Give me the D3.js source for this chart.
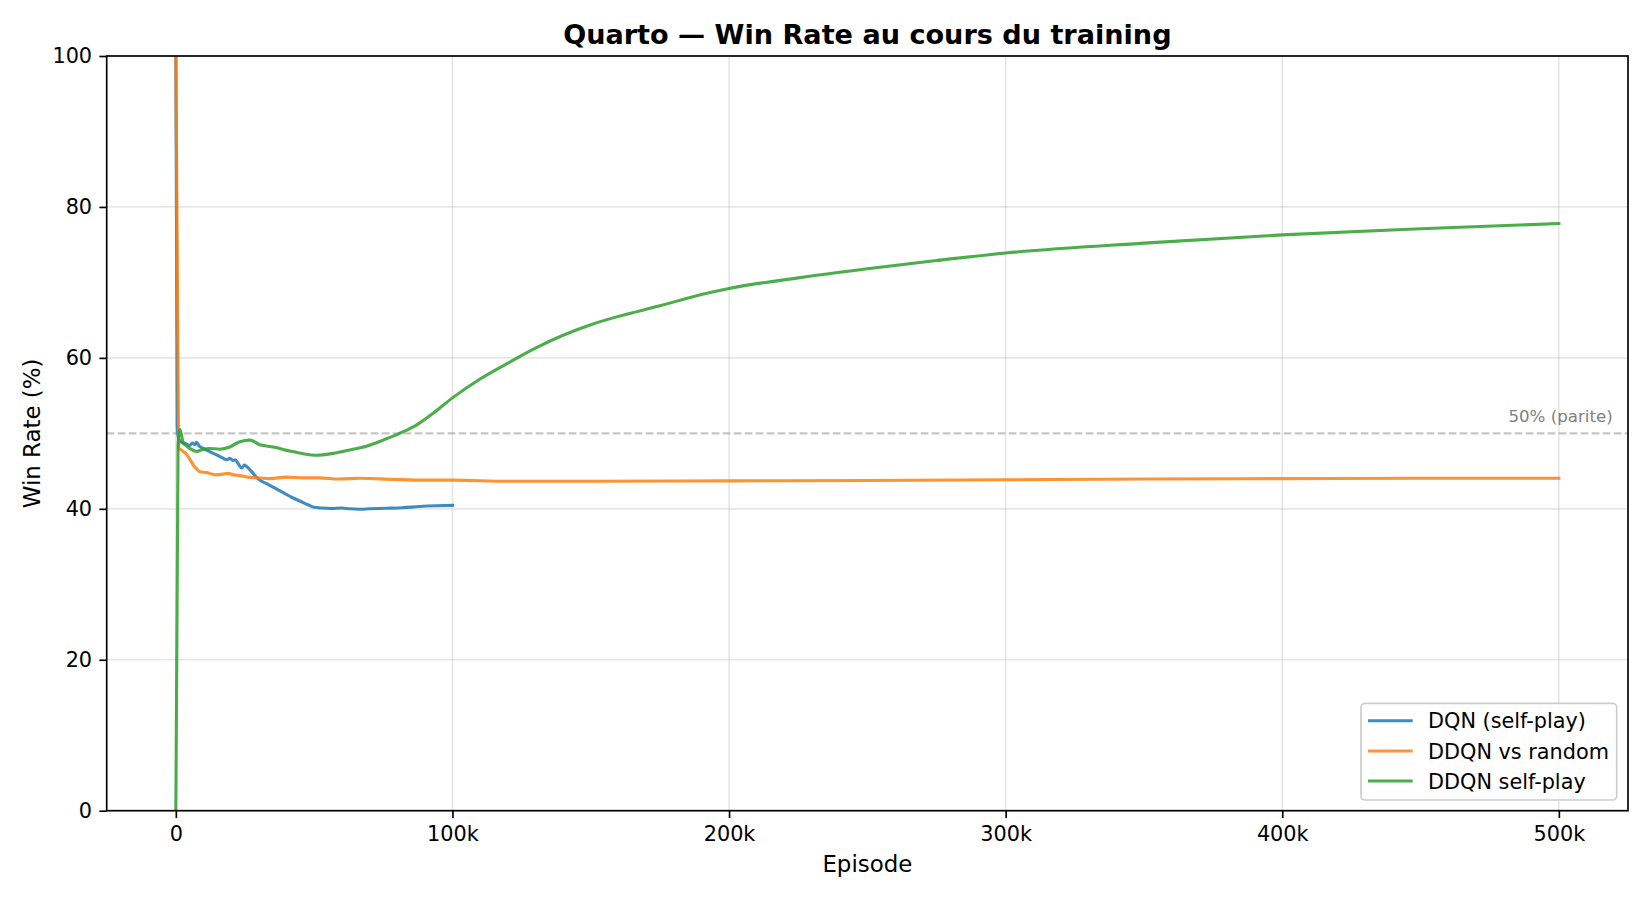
<!DOCTYPE html>
<html>
<head>
<meta charset="utf-8">
<script src="https://cdn.jsdelivr.net/npm/d3@7"></script>
<style>
  html, body { margin: 0; padding: 0; background: #ffffff; }
  svg { display: block; font-family: "DejaVu Sans", sans-serif; }
</style>
</head>
<body>
<svg id="chart" width="1650" height="900"></svg>
<script>
// ---------- data ----------
const titleText = "Quarto \u2014 Win Rate au cours du training";
const xLabel = "Episode";
const yLabel = "Win Rate (%)";
const xTicks = [0, 100000, 200000, 300000, 400000, 500000];
const xTickLabels = ["0", "100k", "200k", "300k", "400k", "500k"];
const yTicks = [0, 20, 40, 60, 80, 100];
const parityValue = 50;
const parityLabel = "50% (parite)";
const seriesNames = ["DQN (self-play)", "DDQN vs random", "DDQN self-play"];

const dqnEpisodes = [0, 500, 1000, 2000, 3300, 5000, 6000, 6900, 7500, 8500, 9900, 11500, 13500, 15500, 17100, 18500, 19500, 20700, 21500, 22500, 23800, 24800, 25600, 27000, 30000, 33000, 36000, 39000, 42000, 45000, 48000, 50000, 53000, 56000, 60000, 63000, 66500, 70000, 76000, 82000, 88000, 94000, 100000];
const dqnValues   = [100, 51.0, 49.3, 48.8, 48.7, 48.4, 48.7, 48.5, 48.8, 48.3, 48.0, 47.7, 47.35, 47.0, 46.7, 46.5, 46.7, 46.4, 46.5, 46.0, 45.4, 45.8, 45.6, 45.1, 43.9, 43.3, 42.7, 42.1, 41.5, 41.0, 40.5, 40.2, 40.1, 40.05, 40.1, 40.0, 39.95, 40.0, 40.07, 40.15, 40.3, 40.4, 40.46];

const ddqnRandEpisodes = [0, 1000, 2000, 2700, 3900, 5000, 6300, 7500, 8700, 11100, 13000, 14700, 17000, 18900, 21000, 23100, 26000, 30000, 34000, 40000, 46000, 52000, 59000, 66500, 78500, 90000, 100000, 120000, 150000, 200000, 250000, 300000, 350000, 400000, 450000, 500000];
const ddqnRandValues   = [100, 48.0, 47.8, 47.6, 47.2, 46.6, 45.8, 45.3, 44.9, 44.8, 44.6, 44.5, 44.6, 44.7, 44.5, 44.4, 44.2, 44.1, 44.0, 44.2, 44.1, 44.1, 43.95, 44.05, 43.9, 43.8, 43.8, 43.65, 43.65, 43.7, 43.75, 43.85, 43.95, 44.0, 44.05, 44.05];

const ddqnSelfEpisodes = [0, 800, 1500, 2700, 4000, 5500, 7500, 9900, 12300, 15900, 19500, 23100, 26800, 30400, 35200, 41200, 46000, 50900, 56900, 62900, 68900, 74900, 80900, 87000, 93000, 100000, 110000, 120000, 130000, 140000, 150000, 160000, 175000, 190000, 200000, 225000, 250000, 275000, 300000, 350000, 400000, 450000, 500000];
const ddqnSelfValues   = [0, 48.5, 50.5, 48.7, 48.3, 47.9, 47.6, 47.9, 48.0, 47.9, 48.2, 48.9, 49.1, 48.5, 48.2, 47.66, 47.3, 47.1, 47.35, 47.8, 48.3, 49.1, 50.0, 51.1, 52.65, 54.7, 57.2, 59.3, 61.3, 63.0, 64.4, 65.5, 66.9, 68.4, 69.2, 70.6, 71.8, 72.9, 73.9, 75.2, 76.3, 77.1, 77.8];

const seriesColors = ["#1f77b4", "#ff7f0e", "#2ca02c"];

// ---------- layout ----------
const plot = { left: 106.7, right: 1628, top: 56, bottom: 810.7 };

const svg = d3.select("#chart");

const x = d3.scaleLinear().domain([-25000, 525000]).range([plot.left, plot.right]);
const y = d3.scaleLinear().domain([0, 100]).range([plot.bottom, plot.top]);

// grid
const grid = svg.append("g");
grid.selectAll("line.gx").data(xTicks).join("line")
  .attr("x1", d => x(d)).attr("x2", d => x(d))
  .attr("y1", plot.top).attr("y2", plot.bottom)
  .attr("stroke", "#b0b0b0").attr("stroke-opacity", 0.3).attr("stroke-width", 1.67);
grid.selectAll("line.gy").data(yTicks).join("line")
  .attr("x1", plot.left).attr("x2", plot.right)
  .attr("y1", d => y(d)).attr("y2", d => y(d))
  .attr("stroke", "#b0b0b0").attr("stroke-opacity", 0.3).attr("stroke-width", 1.67);

// parity line
svg.append("line")
  .attr("x1", plot.left).attr("x2", plot.right)
  .attr("y1", y(parityValue)).attr("y2", y(parityValue))
  .attr("stroke", "#808080").attr("stroke-opacity", 0.45)
  .attr("stroke-width", 2.08).attr("stroke-dasharray", "7.7,3.3");
svg.append("text")
  .attr("x", plot.left + 0.99 * (plot.right - plot.left))
  .attr("y", y(parityValue + 1) - 4)
  .attr("text-anchor", "end")
  .attr("font-size", 16.67).attr("fill", "#808080")
  .text(parityLabel);

// lines
svg.append("clipPath").attr("id", "clip").append("rect")
  .attr("x", plot.left).attr("y", plot.top)
  .attr("width", plot.right - plot.left).attr("height", plot.bottom - plot.top);

const seriesData = [
  d3.zip(dqnEpisodes, dqnValues),
  d3.zip(ddqnRandEpisodes, ddqnRandValues),
  d3.zip(ddqnSelfEpisodes, ddqnSelfValues)
];
const line = d3.line().x(d => x(d[0])).y(d => y(d[1])).curve(d3.curveMonotoneX);
const linesG = svg.append("g").attr("clip-path", "url(#clip)");
seriesData.forEach((data, i) => {
  linesG.append("path").datum(data)
    .attr("d", line).attr("fill", "none")
    .attr("stroke", seriesColors[i]).attr("stroke-opacity", 0.85)
    .attr("stroke-width", 3.1).attr("stroke-linejoin", "round").attr("stroke-linecap", "square");
});

// axes
const xAxis = d3.axisBottom(x).tickValues(xTicks).tickFormat((d, i) => xTickLabels[i])
  .tickSizeInner(7.3).tickSizeOuter(0).tickPadding(7.3);
const yAxis = d3.axisLeft(y).tickValues(yTicks).tickSizeInner(7.3).tickSizeOuter(0).tickPadding(7.3);

const gx = svg.append("g").attr("transform", `translate(0,${plot.bottom})`).call(xAxis);
const gy = svg.append("g").attr("transform", `translate(${plot.left},0)`).call(yAxis);
[gx, gy].forEach(g => {
  g.select(".domain").remove();
  g.selectAll(".tick line").attr("stroke", "#000").attr("stroke-width", 1.67);
  g.selectAll(".tick text").attr("font-size", 20.8).attr("fill", "#000")
    .attr("font-family", "DejaVu Sans, sans-serif");
});
gx.selectAll(".tick text").attr("dy", "0.76em");

// frame
svg.append("rect")
  .attr("x", plot.left).attr("y", plot.top)
  .attr("width", plot.right - plot.left).attr("height", plot.bottom - plot.top)
  .attr("fill", "none").attr("stroke", "#000").attr("stroke-width", 1.67);

// labels
svg.append("text")
  .attr("x", (plot.left + plot.right) / 2).attr("y", 44)
  .attr("text-anchor", "middle").attr("font-size", 27.1).attr("font-weight", "bold")
  .text(titleText);
svg.append("text")
  .attr("x", (plot.left + plot.right) / 2).attr("y", 872)
  .attr("text-anchor", "middle").attr("font-size", 22.9)
  .text(xLabel);
svg.append("text")
  .attr("transform", `translate(40,${(plot.top + plot.bottom) / 2}) rotate(-90)`)
  .attr("text-anchor", "middle").attr("font-size", 22.9)
  .text(yLabel);

// legend
const lg = svg.append("g");
lg.append("rect")
  .attr("x", 1361).attr("y", 703.3).attr("width", 255.7).attr("height", 96.7)
  .attr("rx", 4).attr("ry", 4)
  .attr("fill", "#fff").attr("fill-opacity", 0.8)
  .attr("stroke", "#cccccc").attr("stroke-width", 1.67);
const rows = [720.7, 751, 781];
seriesNames.forEach((name, i) => {
  lg.append("line")
    .attr("x1", 1368).attr("x2", 1412.7).attr("y1", rows[i]).attr("y2", rows[i])
    .attr("stroke", seriesColors[i]).attr("stroke-opacity", 0.85).attr("stroke-width", 3.1);
  lg.append("text")
    .attr("x", 1428).attr("y", rows[i] + 7.5)
    .attr("font-size", 20.8).attr("fill", "#000")
    .text(name);
});
</script>
</body>
</html>
